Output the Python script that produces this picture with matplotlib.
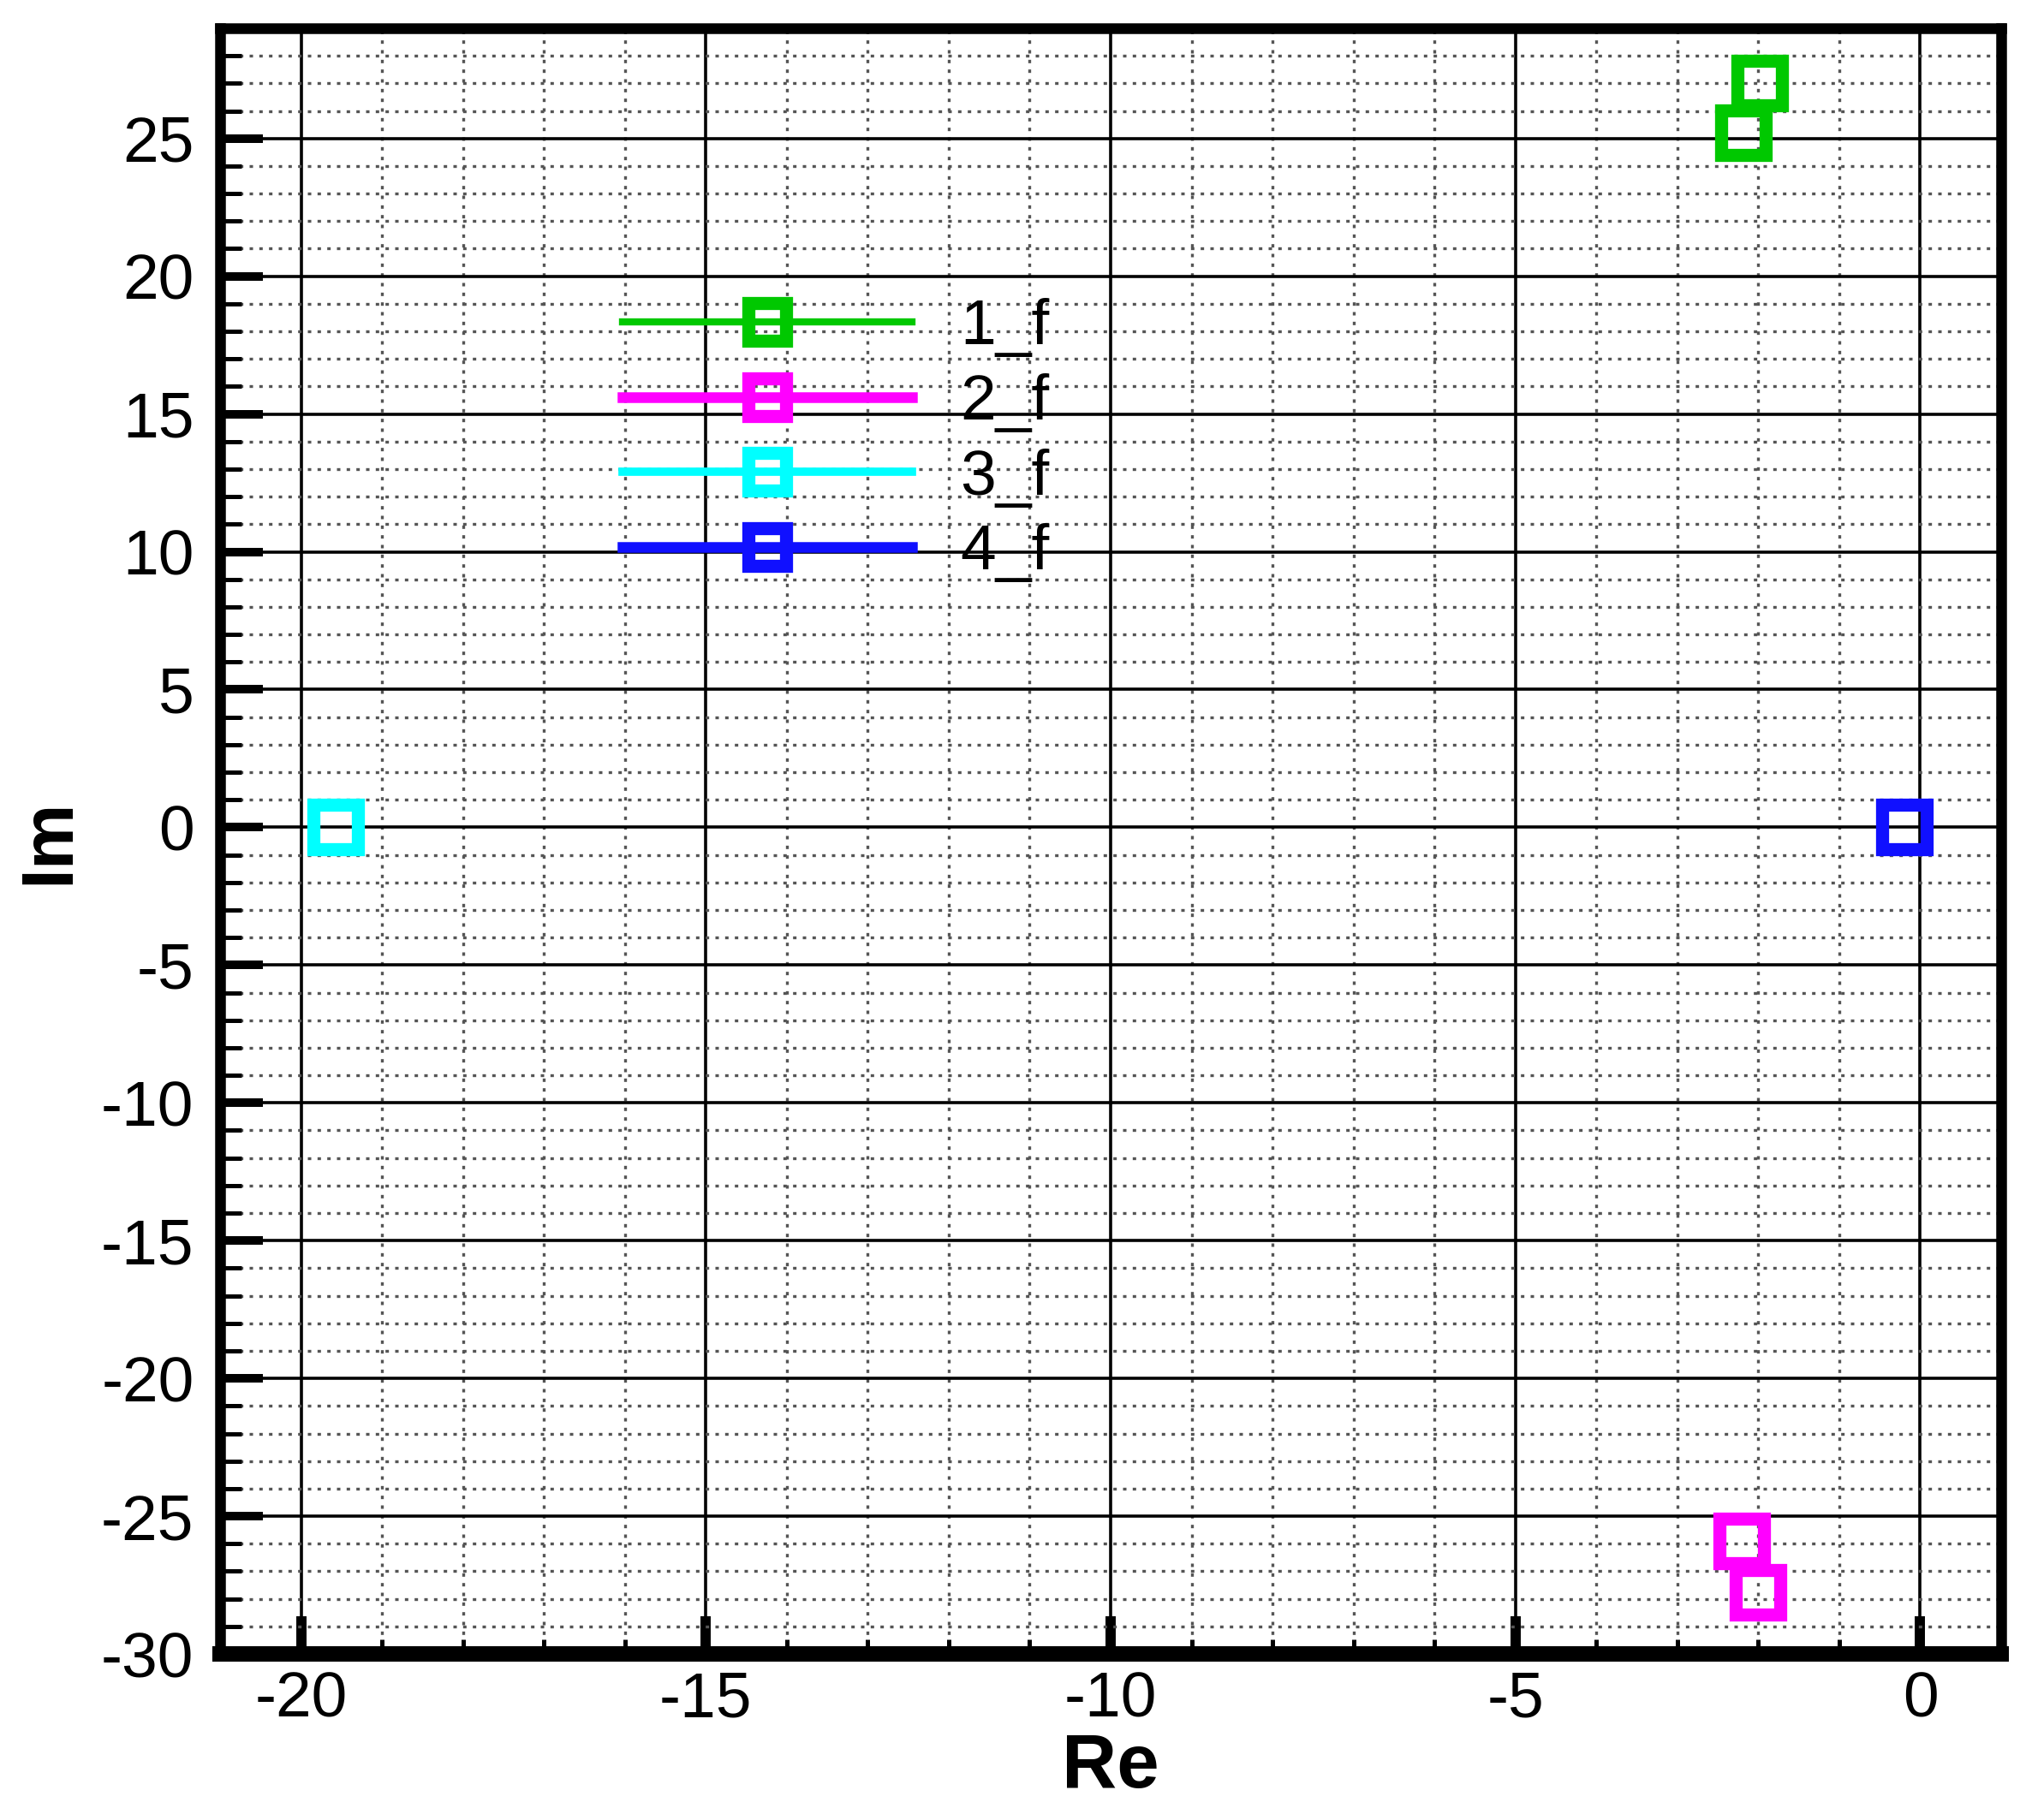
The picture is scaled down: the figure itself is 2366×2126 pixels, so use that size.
import matplotlib
matplotlib.use("Agg")
import matplotlib.pyplot as plt
from matplotlib.lines import Line2D
from matplotlib.ticker import MultipleLocator

# pole positions (Re, Im) per series
labels = ["1_f", "2_f", "3_f", "4_f"]
colors = ["#00c800", "#ff00ff", "#00ffff", "#1010ff"]
re_vals = [[-1.98, -2.18], [-2.2, -2.0], [-19.57], [-0.2]]
im_vals = [[27.0, 25.2], [-25.9, -27.75], [0.0], [0.0]]
leg_lw = [3.0, 4.5, 3.5, 4.5]

plt.rcParams["font.family"] = ["Liberation Sans", "DejaVu Sans"]
plt.rcParams["axes.unicode_minus"] = False

fig = plt.figure(figsize=(11.83, 10.63), dpi=200)
ax = fig.add_axes([257 / 2366, 1 - 1932 / 2126, 2080 / 2366, 1899 / 2126])

ax.set_xlim(-21, 1)
ax.set_ylim(-30, 29)
ax.xaxis.set_major_locator(MultipleLocator(5))
ax.xaxis.set_minor_locator(MultipleLocator(1))
ax.yaxis.set_major_locator(MultipleLocator(5))
ax.yaxis.set_minor_locator(MultipleLocator(1))

ax.grid(which="major", color="black", lw=1.3, ls="-", zorder=0)
ax.grid(which="minor", color="#555555", lw=1.2, ls=(0, (1.2, 2.2)), zorder=0)
ax.set_axisbelow(True)

for sp in ax.spines.values():
    sp.set_linewidth(4.5)
ax.spines["bottom"].set_linewidth(6.5)

ax.tick_params(which="both", direction="in", top=False, right=False, labelsize=27)
ax.tick_params(axis="y", which="major", length=18, width=3.6, pad=11)
ax.tick_params(axis="y", which="minor", length=9, width=1.8)
ax.tick_params(axis="x", which="major", length=16, width=4.3, pad=7)
ax.tick_params(axis="x", which="minor", length=6, width=1.8)

handles = []
for lab, c, xs, ys, lw in zip(labels, colors, re_vals, im_vals, leg_lw):
    ax.plot(xs, ys, ls="none", marker="s", ms=18.5, mfc="none", mec=c, mew=5.5, zorder=3)
    handles.append(Line2D([], [], color=c, lw=lw, marker="s", ms=16, mfc="none", mec=c, mew=5.5))

ax.legend(handles, labels, loc="upper left", bbox_to_anchor=(0.226, 0.834),
          frameon=False, fontsize=27, handlelength=4.5, handletextpad=0.75,
          labelspacing=0.25, borderpad=0, borderaxespad=0)

ax.set_xlabel("Re", fontsize=32, fontweight="bold", labelpad=1)
ax.set_ylabel("Im", fontsize=31, fontweight="bold", labelpad=7)

fig.savefig("out.png", dpi=200)
